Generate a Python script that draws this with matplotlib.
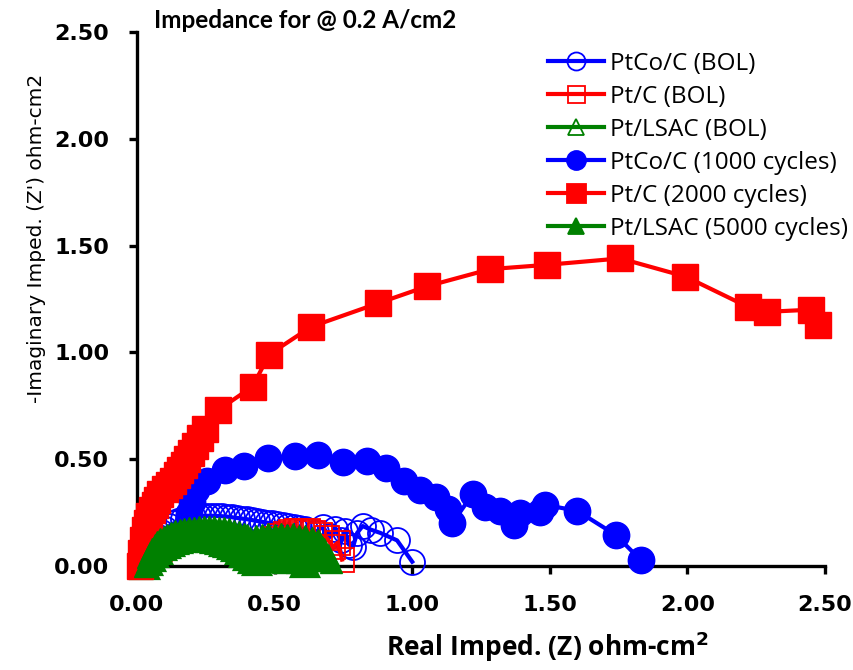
import matplotlib
matplotlib.use("Agg")
import matplotlib.pyplot as plt

# ---------------- data ----------------
title = "Impedance for @ 0.2 A/cm2"
xlabel = "Real Imped. (Z) ohm-cm$^{\\mathbf{2}}$"
ylabel = "-Imaginary Imped. (Z') ohm-cm2"
ticks = [0.0, 0.5, 1.0, 1.5, 2.0, 2.5]
tick_labels = ["0.00", "0.50", "1.00", "1.50", "2.00", "2.50"]

labels = ["PtCo/C (BOL)", "Pt/C (BOL)", "Pt/LSAC (BOL)",
          "PtCo/C (1000 cycles)", "Pt/C (2000 cycles)", "Pt/LSAC (5000 cycles)"]

ptco_bol_x = [0.030, 0.036, 0.044, 0.053, 0.064, 0.076, 0.089, 0.103, 0.118, 0.134,
              0.150, 0.167, 0.184, 0.202, 0.220, 0.238, 0.256, 0.274, 0.292, 0.310,
              0.328, 0.346, 0.364, 0.382, 0.400, 0.418, 0.436, 0.454, 0.472, 0.490,
              0.510, 0.530, 0.550, 0.570, 0.590, 0.610, 0.630, 0.650, 0.675, 0.700,
              0.720, 0.740, 0.756, 0.770, 0.785, 0.800, 0.820, 0.850, 0.884, 0.945, 1.000]
ptco_bol_y = [0.000, 0.030, 0.060, 0.088, 0.114, 0.137, 0.157, 0.174, 0.188, 0.200,
              0.210, 0.218, 0.224, 0.229, 0.232, 0.234, 0.235, 0.235, 0.234, 0.233,
              0.231, 0.228, 0.225, 0.222, 0.219, 0.215, 0.211, 0.207, 0.203, 0.199,
              0.195, 0.190, 0.186, 0.181, 0.176, 0.171, 0.166, 0.160, 0.183, 0.140,
              0.175, 0.120, 0.164, 0.100, 0.090, 0.155, 0.187, 0.170, 0.155, 0.120, 0.020]

ptc_bol_x = [0.030, 0.040, 0.052, 0.066, 0.082, 0.100, 0.120, 0.140, 0.160, 0.180,
             0.200, 0.220, 0.240, 0.260, 0.280, 0.300, 0.320, 0.340, 0.360, 0.380,
             0.400, 0.420, 0.440, 0.460, 0.480, 0.500, 0.520, 0.540, 0.560, 0.580,
             0.600, 0.620, 0.640, 0.665, 0.690, 0.713, 0.730, 0.745]
ptc_bol_y = [0.000, 0.022, 0.043, 0.062, 0.079, 0.094, 0.106, 0.116, 0.123, 0.128,
             0.131, 0.132, 0.131, 0.128, 0.123, 0.115, 0.105, 0.093, 0.080, 0.070,
             0.065, 0.068, 0.078, 0.092, 0.108, 0.125, 0.140, 0.152, 0.160, 0.165,
             0.166, 0.163, 0.156, 0.145, 0.130, 0.090, 0.110, 0.030]

lsac_bol_x = [0.030, 0.040, 0.050, 0.062, 0.075, 0.090, 0.105, 0.120, 0.135, 0.150,
              0.165, 0.180, 0.195, 0.210, 0.225, 0.240, 0.255, 0.270, 0.285, 0.300,
              0.315, 0.330, 0.345, 0.360, 0.375, 0.390, 0.405, 0.420, 0.435, 0.450,
              0.465, 0.480, 0.495, 0.510, 0.525, 0.540, 0.555, 0.570, 0.585, 0.600,
              0.610]
lsac_bol_y = [0.000, 0.020, 0.038, 0.056, 0.072, 0.087, 0.099, 0.109, 0.116, 0.122,
              0.126, 0.129, 0.131, 0.132, 0.132, 0.131, 0.129, 0.126, 0.122, 0.117,
              0.110, 0.102, 0.093, 0.083, 0.071, 0.058, 0.044, 0.030, 0.020, 0.035,
              0.050, 0.062, 0.070, 0.075, 0.077, 0.075, 0.069, 0.060, 0.046, 0.028,
              0.010]

ptco_1000_x = [0.185, 0.19, 0.20, 0.215, 0.255, 0.32, 0.39,
               0.476, 0.575, 0.658, 0.75, 0.836, 0.905, 0.97, 1.03, 1.087, 1.13, 1.145,
               1.22, 1.265, 1.32, 1.37, 1.39, 1.465, 1.484, 1.60, 1.74, 1.83]
ptco_1000_y = [0.20, 0.25, 0.30, 0.356, 0.40, 0.45, 0.47,
               0.506, 0.515, 0.52, 0.487, 0.49, 0.46, 0.40, 0.356, 0.323, 0.267, 0.20,
               0.337, 0.276, 0.258, 0.19, 0.25, 0.253, 0.286, 0.258, 0.145, 0.028]

ptc_2000_x = [0.01, 0.015, 0.022, 0.030, 0.036, 0.045, 0.055, 0.064, 0.073, 0.085, 0.10,
              0.115, 0.13, 0.145, 0.156, 0.17, 0.18, 0.195, 0.21, 0.23, 0.247, 0.295,
              0.42, 0.48, 0.633, 0.876, 1.055, 1.284, 1.49, 1.756, 1.993, 2.22, 2.29,
              2.45, 2.476]
ptc_2000_y = [0.00, 0.06, 0.12, 0.17, 0.20, 0.235, 0.26, 0.285, 0.31, 0.335, 0.36,
              0.38, 0.40, 0.425, 0.45, 0.475, 0.50, 0.53, 0.56, 0.60, 0.64, 0.73,
              0.84, 0.99, 1.12, 1.23, 1.31, 1.39, 1.41, 1.44, 1.355, 1.213, 1.19,
              1.20, 1.13]

lsac_5000_x = [0.030, 0.035, 0.040, 0.047, 0.055, 0.064, 0.074, 0.085, 0.097, 0.110,
               0.124, 0.139, 0.155, 0.172, 0.190, 0.208, 0.226, 0.244, 0.262, 0.280,
               0.298, 0.316, 0.334, 0.352, 0.370, 0.388, 0.400,
               0.410, 0.417, 0.425, 0.432, 0.440, 0.447, 0.455, 0.462, 0.470, 0.477,
               0.485, 0.492, 0.500, 0.507, 0.515, 0.522, 0.530, 0.537, 0.545, 0.552,
               0.560, 0.567, 0.575, 0.582, 0.590, 0.597, 0.605, 0.612, 0.620, 0.627,
               0.635, 0.642, 0.650, 0.657, 0.665, 0.672, 0.680, 0.687, 0.695, 0.705]
lsac_5000_y = [0.000, 0.020, 0.040, 0.060, 0.080, 0.098, 0.112, 0.125, 0.137, 0.147,
               0.155, 0.162, 0.168, 0.173, 0.177, 0.180, 0.182, 0.183, 0.183, 0.182,
               0.180, 0.176, 0.171, 0.165, 0.158, 0.150, 0.143,
               0.130, 0.030, 0.085, 0.140, 0.020, 0.100, 0.145, 0.050, 0.110, 0.150,
               0.030, 0.090, 0.145, 0.060, 0.120, 0.150, 0.020, 0.100, 0.145, 0.050,
               0.115, 0.150, 0.030, 0.090, 0.140, 0.060, 0.120, 0.140, 0.030, 0.100,
               0.130, 0.050, 0.110, 0.120, 0.040, 0.090, 0.080, 0.030, 0.050, 0.020]

BLUE = "#0000FF"
RED = "#FF0000"
GREEN = "#008000"

# ---------------- figure ----------------
fig = plt.figure(figsize=(8.54, 6.70), dpi=100)
ax = fig.add_axes([137/854, 1-566/670, (825-137)/854, (566-32)/670])

lw = 3.0
series = [
    (ptco_bol_x, ptco_bol_y, BLUE, "o", "none", 18, 1.3),
    (ptc_bol_x, ptc_bol_y, RED, "s", "none", 17, 1.3),
    (lsac_bol_x, lsac_bol_y, GREEN, "^", "none", 16, 4.5),
    (ptco_1000_x, ptco_1000_y, BLUE, "o", BLUE, 19, 1.0),
    (ptc_2000_x, ptc_2000_y, RED, "s", RED, 19, 1.0),
    (lsac_5000_x, lsac_5000_y, GREEN, "^", GREEN, 16, 1.0),
]
for i, (xs, ys, c, m, fc, ms, mew) in enumerate(series):
    ax.plot(xs, ys, color=c, lw=lw, marker=m, markersize=ms,
            markerfacecolor=fc, markeredgecolor=c, markeredgewidth=mew,
            label=labels[i], clip_on=False, zorder=3 + i)

ax.set_xlim(0, 2.5)
ax.set_ylim(0, 2.5)
ax.set_xticks(ticks)
ax.set_yticks(ticks)
ax.set_xticklabels(tick_labels)
ax.set_yticklabels(tick_labels)
for s in ["top", "right"]:
    ax.spines[s].set_visible(False)
for s in ["left", "bottom"]:
    ax.spines[s].set_linewidth(2.4)
    ax.spines[s].set_color("black")
ax.tick_params(axis="both", direction="out", length=6, width=2.4,
               labelsize=16)
ax.tick_params(axis="y", pad=14)
ax.tick_params(axis="x", pad=15)
for t in ax.get_xticklabels() + ax.get_yticklabels():
    t.set_fontweight("bold")
    t.set_fontfamily("DejaVu Sans")

fig.text(305/854, 1-20/670, title, ha="center", va="center",
         fontsize=17.5, fontweight="bold", family="Lato")
fig.text(547/854, 1-647/670, xlabel, ha="center", va="center",
         fontsize=19, fontweight="bold", family="Open Sans")
fig.text(37/854, 1-238/670, ylabel, ha="center", va="center", rotation=90,
         fontsize=14.5, family="DejaVu Sans")

leg = ax.legend(loc="upper left", bbox_to_anchor=((548-137)/688, (566-52)/534),
                frameon=False, borderpad=0, borderaxespad=0,
                handlelength=2.3, handletextpad=0.25, labelspacing=0.37,
                markerscale=0.72, prop={"family": "Open Sans", "size": 17.5})
for h in leg.legend_handles:
    h.set_markeredgewidth(1.3)

fig.savefig("out.png", dpi=100)
